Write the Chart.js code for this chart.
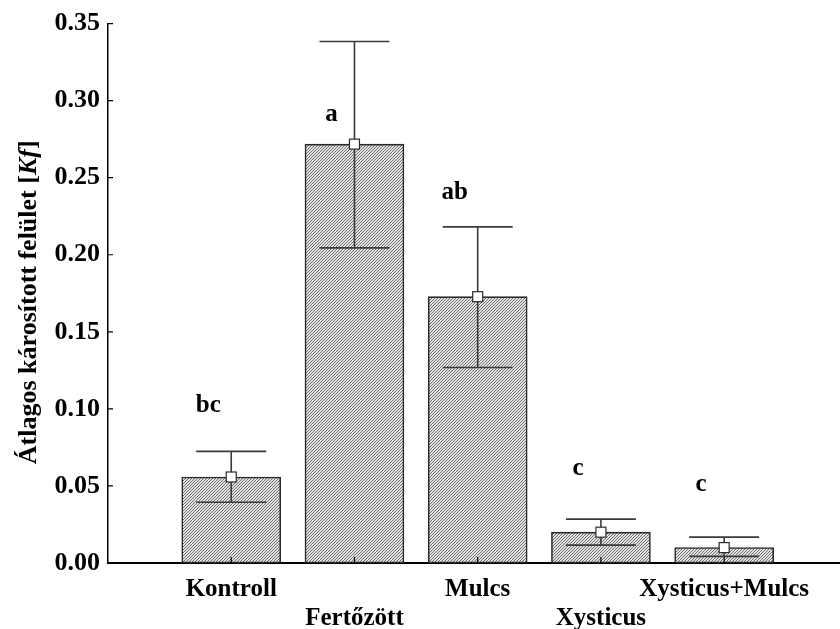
<!DOCTYPE html>
<html>
<head>
<meta charset="utf-8">
<script src="https://cdn.jsdelivr.net/npm/chart.js@4"></script>
<style>
  html, body { margin: 0; padding: 0; background: #fff; }
  #wrap { width: 840px; height: 629px; }
</style>
</head>
<body>
<div id="wrap"><canvas id="chart" width="840" height="629"></canvas></div>
<script>
// data
const categories = ['Kontroll', 'Fertőzött', 'Mulcs', 'Xysticus', 'Xysticus+Mulcs'];
const means = [0.0558, 0.2718, 0.1728, 0.0200, 0.0100];
const upperErr = [0.0724, 0.3384, 0.2181, 0.0285, 0.0168];
const lowerErr = [0.0394, 0.2045, 0.1269, 0.0116, 0.0043];
const groupLetters = ['bc', 'a', 'ab', 'c', 'c'];
const letterLevels = [0.098, 0.287, 0.236, 0.057, 0.047];
const yTickValues = [0, 0.05, 0.10, 0.15, 0.20, 0.25, 0.30, 0.35];

const SERIF = "'Liberation Serif', 'Times New Roman', serif";

// diagonal hatch fill
function makeHatch() {
  const c = document.createElement('canvas');
  c.width = 6; c.height = 6;
  const g = c.getContext('2d');
  g.fillStyle = '#e4e4e4';
  g.fillRect(0, 0, 6, 6);
  g.fillStyle = '#6e6e6e';
  for (let x = 0; x < 6; x++) {
    for (let y = 0; y < 6; y++) {
      if ((x + y) % 3 === 0) g.fillRect(x, y, 1, 1);
    }
  }
  return document.getElementById('chart').getContext('2d').createPattern(c, 'repeat');
}

const extras = {
  id: 'extras',
  afterDatasetsDraw(chart) {
    const ctx = chart.ctx;
    const xs = chart.scales.x, ys = chart.scales.y;
    ctx.save();
    // error bars
    ctx.strokeStyle = '#3a3a3a';
    ctx.lineWidth = 1.6;
    categories.forEach((c, i) => {
      const px = xs.getPixelForValue(i + 1);
      const top = ys.getPixelForValue(upperErr[i]);
      const bot = ys.getPixelForValue(lowerErr[i]);
      ctx.beginPath();
      ctx.moveTo(px, top); ctx.lineTo(px, bot);
      ctx.moveTo(px - 35, top); ctx.lineTo(px + 35, top);
      ctx.moveTo(px - 35, bot); ctx.lineTo(px + 35, bot);
      ctx.stroke();
    });
    // mean markers
    categories.forEach((c, i) => {
      const px = xs.getPixelForValue(i + 1);
      const py = ys.getPixelForValue(means[i]);
      ctx.fillStyle = '#fff';
      ctx.fillRect(px - 5, py - 5, 10, 10);
      ctx.strokeStyle = '#2a2a2a';
      ctx.lineWidth = 1.2;
      ctx.strokeRect(px - 5, py - 5, 10, 10);
    });
    // group letters
    ctx.fillStyle = '#000';
    ctx.font = 'bold 25px ' + SERIF;
    ctx.textAlign = 'center';
    ctx.textBaseline = 'alphabetic';
    groupLetters.forEach((t, i) => {
      ctx.fillText(t, xs.getPixelForValue(i + 1) - 23, ys.getPixelForValue(letterLevels[i]));
    });
    ctx.restore();
  },
  afterDraw(chart) {
    const ctx = chart.ctx;
    const xs = chart.scales.x, ys = chart.scales.y;
    const area = chart.chartArea;
    ctx.save();
    ctx.strokeStyle = '#000';
    ctx.lineWidth = 1.2;
    // inward ticks
    ctx.beginPath();
    yTickValues.forEach(v => {
      const py = ys.getPixelForValue(v);
      ctx.moveTo(area.left, py); ctx.lineTo(area.left + 5, py);
    });
    categories.forEach((c, i) => {
      const px = xs.getPixelForValue(i + 1);
      ctx.moveTo(px, area.bottom); ctx.lineTo(px, area.bottom - 6);
    });
    ctx.stroke();
    // staggered category labels
    ctx.fillStyle = '#000';
    ctx.font = 'bold 25px ' + SERIF;
    ctx.textAlign = 'center';
    ctx.textBaseline = 'alphabetic';
    categories.forEach((c, i) => {
      ctx.fillText(c, xs.getPixelForValue(i + 1), i % 2 === 0 ? 596 : 625);
    });
    // y title with italic Kf
    const parts = [
      ['Átlagos károsított felület [', 'bold 26px ' + SERIF],
      ['Kf', 'italic bold 26px ' + SERIF],
      [']', 'bold 26px ' + SERIF]
    ];
    let total = 0;
    parts.forEach(p => { ctx.font = p[1]; total += ctx.measureText(p[0]).width; });
    ctx.translate(36, (area.top + area.bottom) / 2 + 9);
    ctx.rotate(-Math.PI / 2);
    ctx.textAlign = 'left';
    let x = -total / 2;
    parts.forEach(p => {
      ctx.font = p[1];
      ctx.fillText(p[0], x, 0);
      x += ctx.measureText(p[0]).width;
    });
    ctx.restore();
  }
};

new Chart(document.getElementById('chart'), {
  type: 'bar',
  data: {
    datasets: [{
      data: means.map((m, i) => ({ x: i + 1, y: m })),
      backgroundColor: makeHatch(),
      borderColor: '#2a2a2a',
      borderWidth: 1.6,
      borderSkipped: false,
      barThickness: 99
    }]
  },
  options: {
    responsive: false,
    animation: false,
    layout: { padding: { top: 22, right: 0, left: 0, bottom: 0 } },
    plugins: { legend: { display: false }, tooltip: { enabled: false } },
    scales: {
      x: {
        type: 'linear',
        min: 0,
        max: 5.94,
        offset: false,
        grid: { display: false, drawTicks: false, offset: false },
        border: { display: true, color: '#000', width: 2 },
        ticks: { display: false },
        afterFit: s => { s.height = 66; }
      },
      y: {
        min: 0,
        max: 0.35,
        grid: { display: false, drawTicks: false },
        border: { display: true, color: '#000', width: 1.5 },
        ticks: {
          stepSize: 0.05,
          padding: 8,
          color: '#000',
          font: { family: SERIF, size: 26, weight: 'bold' },
          callback: v => v.toFixed(2)
        },
        afterFit: s => { s.width = 108; }
      }
    }
  },
  plugins: [extras]
});
</script>
</body>
</html>
